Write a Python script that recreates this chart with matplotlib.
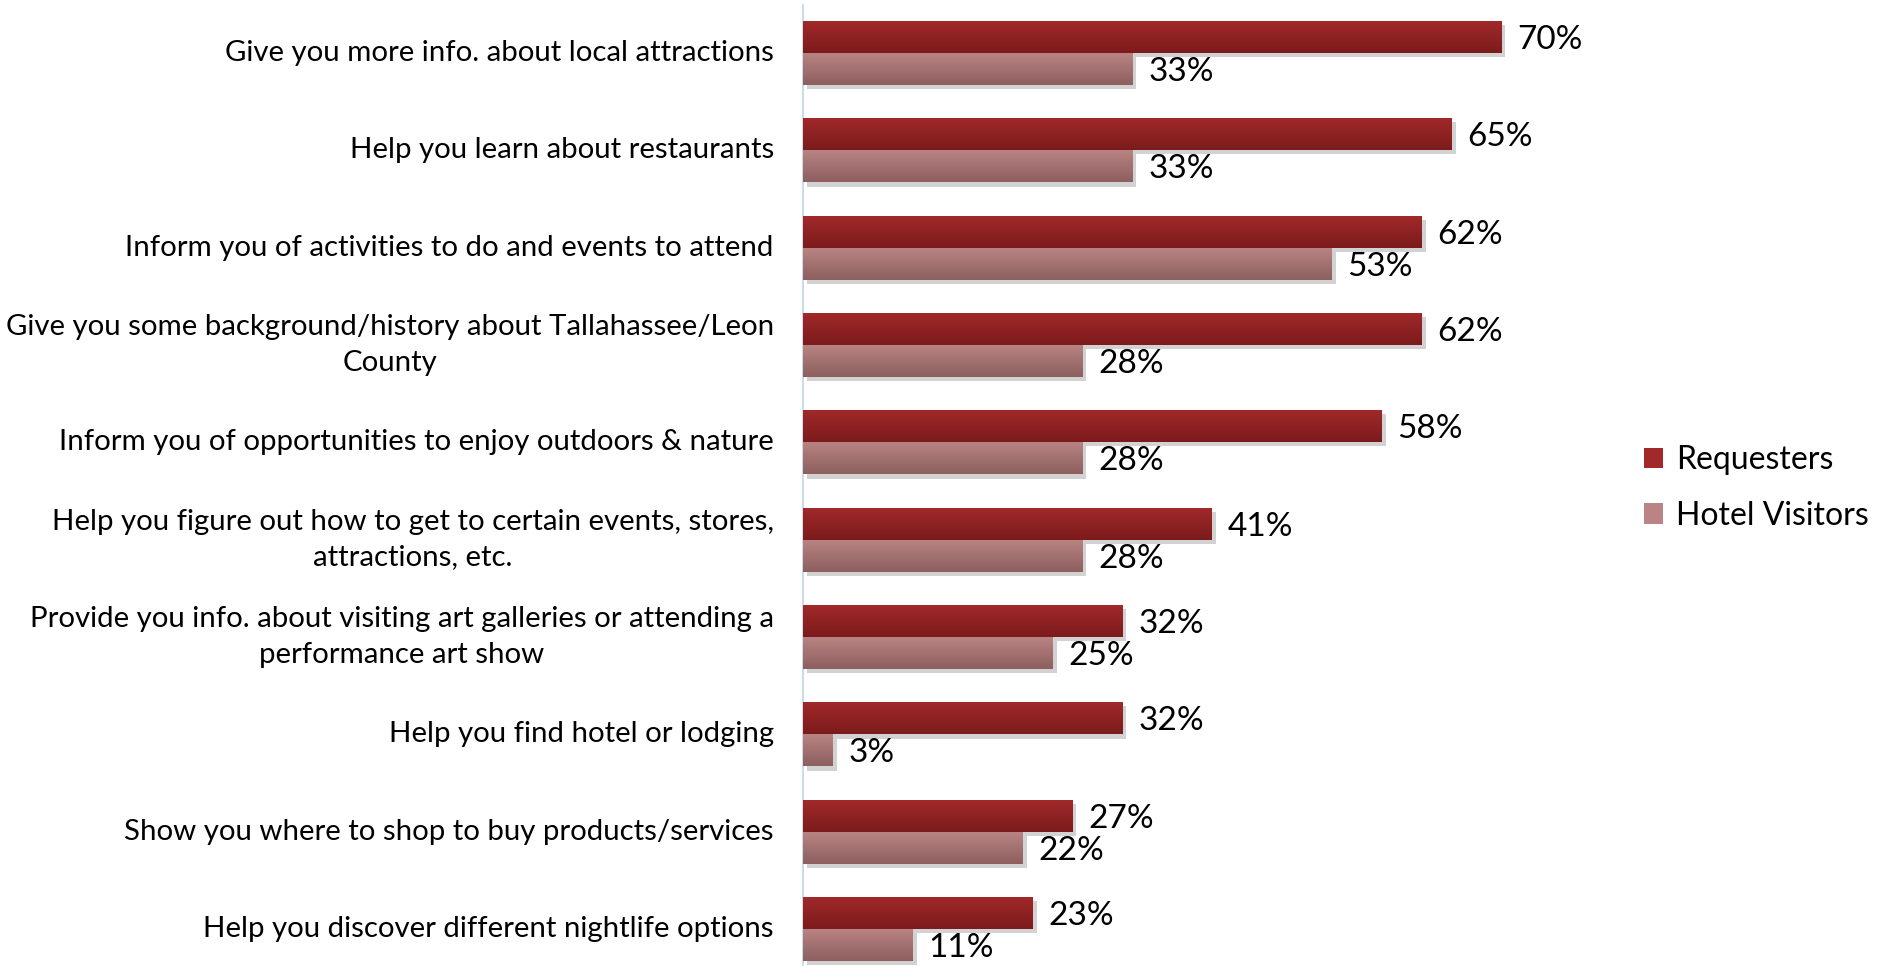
import numpy as np
import matplotlib.pyplot as plt
from matplotlib.colors import LinearSegmentedColormap
from matplotlib.patches import Patch
import matplotlib.patheffects as pe

plt.rcParams["font.family"] = ["Lato", "DejaVu Sans"]

categories = [
    "Give you more info. about local attractions",
    "Help you learn about restaurants",
    "Inform you of activities to do and events to attend",
    "Give you some background/history about Tallahassee/Leon\nCounty",
    "Inform you of opportunities to enjoy outdoors & nature",
    "Help you figure out how to get to certain events, stores,\nattractions, etc.",
    "Provide you info. about visiting art galleries or attending a\nperformance art show",
    "Help you find hotel or lodging",
    "Show you where to shop to buy products/services",
    "Help you discover different nightlife options",
]
requesters = [70, 65, 62, 62, 58, 41, 32, 32, 27, 23]
hotel_visitors = [33, 33, 53, 28, 28, 28, 25, 3, 22, 11]

series = [
    ("Requesters", requesters, ("#a2292a", "#7c1b1c")),
    ("Hotel Visitors", hotel_visitors, ("#ba8484", "#8d5f5f")),
]

W, H = 1883, 966
fig = plt.figure(figsize=(W / 100, H / 100), dpi=100)
ax = fig.add_axes([803 / W, 0, 798 / W, 961 / H])

bar_h = 0.33
y = np.arange(len(categories))
shadow = [pe.SimplePatchShadow(offset=(3, -3), shadow_rgbFace="#808080", alpha=0.35), pe.Normal()]

for i, (name, vals, (top_c, bot_c)) in enumerate(series):
    cmap = LinearSegmentedColormap.from_list(name, [top_c, bot_c])
    offs = y - bar_h / 2 + i * bar_h
    bars = ax.barh(offs, vals, height=bar_h, color=top_c, edgecolor="none",
                   label=name, path_effects=shadow, zorder=2)
    grad = np.linspace(0, 1, 64).reshape(-1, 1)
    for b, v in zip(bars, vals):
        y0 = b.get_y()
        img = ax.imshow(grad, cmap=cmap, aspect="auto", zorder=3,
                        extent=[0, v, y0 + bar_h, y0], interpolation="bicubic")
        img.set_clip_path(b)
        ax.text(v + 1.6, y0 + bar_h / 2 + 0.03, f"{v}%", ha="left", va="center",
                fontsize=24, color="black", zorder=4)

ax.set_xlim(0, 80)
ax.set_ylim(9.38, -0.493)
ax.set_yticks(y)
ax.set_yticklabels(categories, fontsize=21.2, multialignment="center",
                   linespacing=1.45, va="center")
ax.tick_params(axis="y", length=0, pad=21)
ax.set_xticks([])
for s in ["top", "right", "bottom"]:
    ax.spines[s].set_visible(False)
ax.spines["left"].set_color("#cddbea")
ax.spines["left"].set_linewidth(1.5)

handles = [Patch(facecolor=c[0], edgecolor="none", label=n) for n, _, c in series]
fig.legend(handles=handles, loc="center left", bbox_to_anchor=(1644 / W, 1 - 488 / H),
           frameon=False, fontsize=23, handlelength=0.6, handleheight=0.6,
           handletextpad=0.4, labelspacing=0.8, borderaxespad=0, borderpad=0)

fig.savefig("out.png", dpi=100)
